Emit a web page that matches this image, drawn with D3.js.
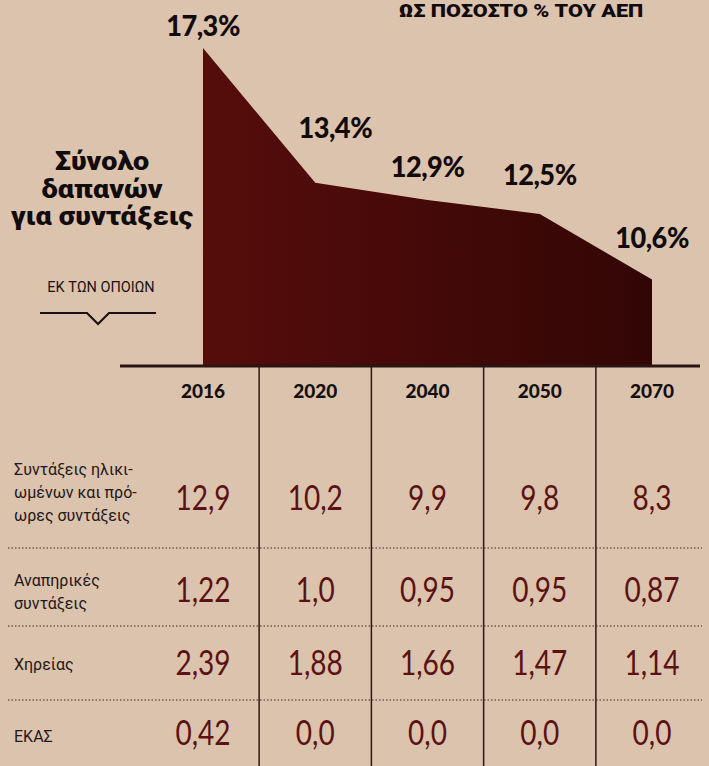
<!DOCTYPE html>
<html>
<head>
<meta charset="utf-8">
<script src="https://cdn.jsdelivr.net/npm/d3@7/dist/d3.min.js"></script>
<style>
  html, body { margin: 0; padding: 0; background: #dcc3ad; }
  svg { display: block; }
  text { font-family: Lato, "Open Sans", "Noto Sans", sans-serif; }
  text.gr { font-family: Roboto, "Open Sans", "Noto Sans", sans-serif; }
</style>
</head>
<body>
<svg id="chart" width="709" height="766"></svg>
<script>
// ---------- DATA ----------
const years = ["2016", "2020", "2040", "2050", "2070"];
const totalSpending = [17.3, 13.4, 12.9, 12.5, 10.6];          // % of GDP
const oldAgeEarly  = [12.9, 10.2, 9.9, 9.8, 8.3];
const disability   = [1.22, 1.0, 0.95, 0.95, 0.87];
const survivors    = [2.39, 1.88, 1.66, 1.47, 1.14];
const ekas         = [0.42, 0.0, 0.0, 0.0, 0.0];
const rowLabels = [
  ["Συντάξεις ηλικι-", "ωμένων και πρό-", "ωρες συντάξεις"],
  ["Αναπηρικές", "συντάξεις"],
  ["Χηρείας"],
  ["ΕΚΑΣ"]
];
const titleText = "ΩΣ ΠΟΣΟΣΤΟ % ΤΟΥ ΑΕΠ";
const headline = ["Σύνολο", "δαπανών", "για συντάξεις"];
const subText = "ΕΚ ΤΩΝ ΟΠΟΙΩΝ";

// ---------- LAYOUT ----------
const W = 709, H = 766;
const baseY = 366;
const yDomain = [8.1, 17.3];
const labelOffsets = [{dx: 0, dy: -12}, {dx: 20, dy: -45}, {dx: 0, dy: -23}, {dx: 0, dy: -29}, {dx: 0, dy: -32}];
const rowNumberY = [510, 602, 675, 745];
const rowLabelY = [[475, 498, 521], [586, 609], [670], [742]];
const rowSepY = [548, 626, 700];

const svg = d3.select("#chart");
const locale = d3.formatLocale({decimal: ",", thousands: ".", grouping: [3], currency: ["", "€"]});
const f1 = locale.format(".1f");
const f2 = locale.format(".2f");
const cellFmt = v => { let s = f2(v); return s.endsWith("0") ? s.slice(0, -1) : s; };

const x = d3.scalePoint().domain(years).range([203, 652]);
const y = d3.scaleLinear().domain(yDomain).range([baseY, 48]);

svg.append("rect").attr("width", W).attr("height", H).attr("fill", "#dcc3ad");

const defs = svg.append("defs");
const grad = defs.append("linearGradient").attr("id", "areaGrad")
  .attr("x1", "0%").attr("x2", "100%").attr("y1", "0%").attr("y2", "0%");
grad.append("stop").attr("offset", "0%").attr("stop-color", "#560d0b");
grad.append("stop").attr("offset", "100%").attr("stop-color", "#320605");

const totals = years.map((yr, i) => ({year: yr, value: totalSpending[i]}));

const area = d3.area()
  .x(d => x(d.year))
  .y0(baseY)
  .y1(d => y(d.value));

svg.append("path").datum(totals).attr("d", area).attr("fill", "url(#areaGrad)");

function fitScale(sel, sx) {
  sel.each(function() {
    const t = d3.select(this);
    const tx = +t.attr("x"), ty = +t.attr("y");
    t.attr("x", 0).attr("y", 0).attr("transform", `translate(${tx},${ty}) scale(${sx},1)`);
  });
}

svg.append("g").selectAll("text").data(totals).join("text")
  .attr("x", (d, i) => x(d.year) + labelOffsets[i].dx)
  .attr("y", (d, i) => y(d.value) + labelOffsets[i].dy)
  .attr("text-anchor", "middle")
  .attr("font-size", 28)
  .attr("font-weight", 900)
  .attr("fill", "#120b0b")
  .attr("letter-spacing", -0.5)
  .text(d => f1(d.value) + "%")
  .call(fitScale, 0.97);

// title
svg.append("text").attr("class", "gr")
  .attr("x", 521).attr("y", 17)
  .attr("text-anchor", "middle")
  .attr("font-size", 18).attr("font-weight", 900)
  .attr("fill", "#120b0b")
  .text(titleText)
  .call(fitScale, 1.2);

// headline
svg.append("g").selectAll("text").data(headline).join("text").attr("class", "gr")
  .attr("x", 102).attr("y", (d, i) => 170 + i * 27.5)
  .attr("text-anchor", "middle")
  .attr("font-size", 25).attr("font-weight", 900)
  .attr("fill", "#120b0b")
  .text(d => d)
  .call(fitScale, 1.15);

svg.append("text").attr("class", "gr")
  .attr("x", 101).attr("y", 292)
  .attr("text-anchor", "middle")
  .attr("font-size", 14.5)
  .attr("fill", "#1a1212")
  .text(subText);

svg.append("path")
  .attr("d", "M40,313 H87 L98,324 L109,313 H156")
  .attr("fill", "none").attr("stroke", "#1a1212").attr("stroke-width", 2.2);

// baseline
svg.append("line")
  .attr("x1", 120).attr("x2", 700).attr("y1", baseY).attr("y2", baseY)
  .attr("stroke", "#2a1512").attr("stroke-width", 3);

// column dividers
const dividers = d3.range(1, years.length).map(i => (x(years[i - 1]) + x(years[i])) / 2);
svg.append("g").selectAll("line").data(dividers).join("line")
  .attr("x1", d => d).attr("x2", d => d)
  .attr("y1", baseY).attr("y2", H)
  .attr("stroke", "#2a1a16").attr("stroke-width", 1.5);

// year header
svg.append("g").selectAll("text").data(years).join("text")
  .attr("x", d => x(d)).attr("y", 398)
  .attr("text-anchor", "middle")
  .attr("font-size", 19).attr("font-weight", 900)
  .attr("fill", "#151010")
  .text(d => d);

// dotted separators
svg.append("g").selectAll("line").data(rowSepY).join("line")
  .attr("x1", 8).attr("x2", 702)
  .attr("y1", d => d).attr("y2", d => d)
  .attr("stroke", "#3a2a25").attr("stroke-width", 1.2)
  .attr("stroke-dasharray", "1.5,2");

// table rows
const rows = [oldAgeEarly, disability, survivors, ekas];
rows.forEach((vals, r) => {
  const g = svg.append("g");
  g.selectAll("text.lab").data(rowLabels[r]).join("text")
    .attr("class", "lab gr")
    .attr("x", 14).attr("y", (d, i) => rowLabelY[r][i])
    .attr("font-size", 16)
    .attr("fill", "#241818")
    .text(d => d);
  g.selectAll("text.num").data(vals).join("text")
    .attr("class", "num")
    .attr("x", (d, i) => x(years[i])).attr("y", rowNumberY[r])
    .attr("text-anchor", "middle")
    .attr("font-size", 35)
    .attr("fill", "#5a1212")
    .text(d => cellFmt(d))
    .call(fitScale, 0.8);
});
</script>
</body>
</html>
